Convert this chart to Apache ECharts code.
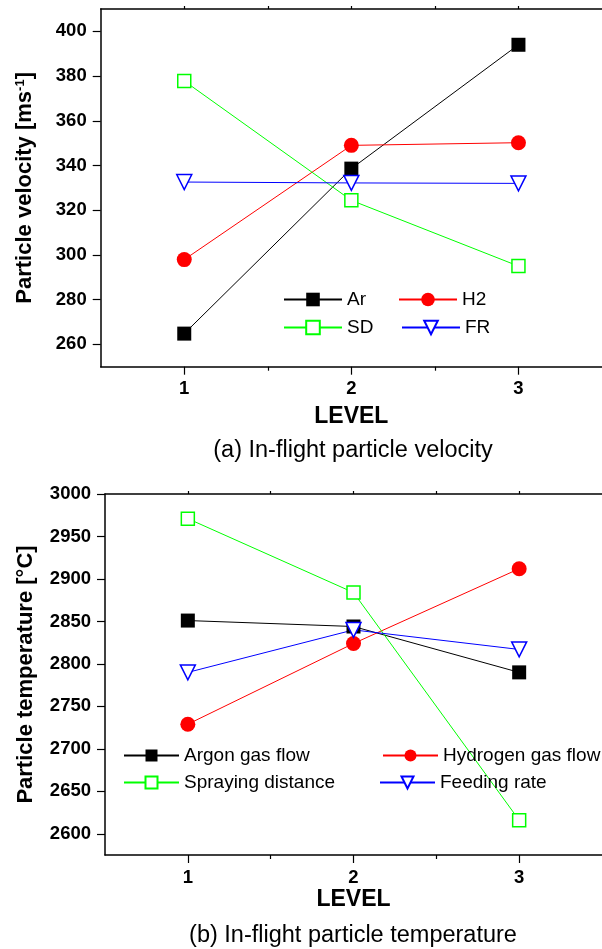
<!DOCTYPE html>
<html>
<head>
<meta charset="utf-8">
<script src="https://cdn.jsdelivr.net/npm/echarts@6/dist/echarts.min.js"></script>
<style>
  html, body { margin: 0; padding: 0; background: #fff; }
  #main { width: 602px; height: 949px; }
</style>
</head>
<body>
<div id="main"></div>
<script>
// levels on the x axis
var levels = [1, 2, 3];
var levelMinor = [1.5, 2.5];
var levelTop = [1, 1.5, 2, 2.5, 3];

// (a) in-flight particle velocity [m/s]
var velAr = [264.8, 338.6, 394.0];
var velH2 = [297.9, 349.0, 350.2];
var velSD = [377.8, 324.4, 295.0];
var velFR = [332.6, 332.2, 332.0];
var velTicks = [260, 280, 300, 320, 340, 360, 380, 400];
var velMinor = [270, 290, 310, 330, 350, 370, 390];

// (b) in-flight particle temperature [°C]
var tempAr = [2851, 2844, 2790];
var tempH2 = [2729, 2824, 2912];
var tempSD = [2971, 2884, 2616];
var tempFR = [2790, 2840, 2817];
var tempTicks = [2600, 2650, 2700, 2750, 2800, 2850, 2900, 2950, 3000];
var tempMinor = [2625, 2675, 2725, 2775, 2825, 2875, 2925, 2975];

var FONT = '"Liberation Sans", Arial, sans-serif';
var downTri = 'path://M0,0 L10,0 L5,9 Z';

function pairs(ys) {
    return levels.map(function (x, i) { return [x, ys[i]]; });
}

// main x axis + minor ticks + top border for one grid
function xAxes(grid) {
    return [
        {
            type: 'value', gridIndex: grid, min: 0.5, max: 3.5, position: 'bottom',
            name: 'LEVEL', nameLocation: 'middle', nameGap: grid === 0 ? 38 : 33,
            nameTextStyle: { fontFamily: FONT, fontSize: 23, fontWeight: 'bold', color: '#000' },
            axisLine: { show: true, lineStyle: { color: '#000', width: 1.5 } },
            axisTick: { show: true, length: 8, customValues: levels, lineStyle: { color: '#000', width: 1.2 } },
            axisLabel: { customValues: levels, margin: 13, fontFamily: FONT, fontSize: 18.5, fontWeight: 'bold', color: '#000' },
            splitLine: { show: false }
        },
        {
            type: 'value', gridIndex: grid, min: 0.5, max: 3.5, position: 'bottom',
            axisLine: { show: false },
            axisTick: { show: true, length: 4, customValues: levelMinor, lineStyle: { color: '#000', width: 1.2 } },
            axisLabel: { show: false },
            splitLine: { show: false }
        },
        {
            type: 'value', gridIndex: grid, min: 0.5, max: 3.5, position: 'top',
            axisLine: { show: true, lineStyle: { color: '#000', width: 1.5 } },
            axisTick: { show: true, length: 3, customValues: levelTop, lineStyle: { color: '#000', width: 1.2 } },
            axisLabel: { show: false },
            splitLine: { show: false }
        }
    ];
}

function yAxes(grid, min, max, ticks, minor, name, gap) {
    return [
        {
            type: 'value', gridIndex: grid, min: min, max: max,
            name: name, nameLocation: 'middle', nameGap: gap,
            nameTextStyle: {
                fontFamily: FONT, fontSize: 22, fontWeight: 'bold', color: '#000',
                rich: { sup: { fontFamily: FONT, fontSize: 13, fontWeight: 'bold', color: '#000', verticalAlign: 'top', padding: [0, 0, 10, 0] } }
            },
            axisLine: { show: true, lineStyle: { color: '#000', width: 1.5 } },
            axisTick: { show: true, length: 8, customValues: ticks, lineStyle: { color: '#000', width: 1.2 } },
            axisLabel: {
                customValues: ticks, margin: 14, fontFamily: FONT, fontSize: 18.5, fontWeight: 'bold', color: '#000',
                formatter: function (v) { return String(v); }
            },
            splitLine: { show: false }
        },
        {
            type: 'value', gridIndex: grid, min: min, max: max,
            axisLine: { show: false },
            axisTick: { show: true, length: 4, customValues: minor, lineStyle: { color: '#000', width: 1.2 } },
            axisLabel: { show: false },
            splitLine: { show: false }
        }
    ];
}

function line(name, xi, yi, ys, color, symbol, size, hollow) {
    return {
        name: name, type: 'line', xAxisIndex: xi, yAxisIndex: yi,
        data: pairs(ys),
        symbol: symbol, symbolSize: size,
        lineStyle: { color: color, width: 1 },
        itemStyle: hollow ? { color: '#fff', borderColor: color, borderWidth: 1.5 } : { color: color },
        emphasis: { disabled: true },
        animation: false
    };
}

function legendItem(name, left, top, w, h) {
    return {
        data: [name], left: left, top: top, padding: 0,
        itemWidth: w, itemHeight: h, selectedMode: false,
        textStyle: { fontFamily: FONT, fontSize: 19, color: '#000' }
    };
}

var myChart = echarts.init(document.getElementById('main'), null, { renderer: 'canvas' });
var option = {
    animation: false,
    grid: [
        { left: 100.7, top: 9, right: -3, height: 357.7 },
        { left: 105, top: 494, right: -3, height: 361 }
    ],
    xAxis: xAxes(0).concat(xAxes(1)),
    yAxis: yAxes(0, 250, 410, velTicks, velMinor, 'Particle velocity [ms{sup|-1}]', 64)
        .concat(yAxes(1, 2575, 3000, tempTicks, tempMinor, 'Particle temperature [°C]', 68)),
    title: [
        { text: '(a) In-flight particle velocity', left: 353, top: 439, textAlign: 'center', padding: 0,
          textStyle: { fontFamily: FONT, fontSize: 23.5, fontWeight: 'normal', color: '#000' } },
        { text: '(b) In-flight particle temperature', left: 353, top: 924, textAlign: 'center', padding: 0,
          textStyle: { fontFamily: FONT, fontSize: 23.5, fontWeight: 'normal', color: '#000' } }
    ],
    legend: [
        legendItem('Ar', 283, 290, 58, 17),
        legendItem('H2', 398, 290, 58, 17),
        legendItem('SD', 283, 318, 58, 17),
        legendItem('FR', 401, 318, 58, 17),
        legendItem('Argon gas flow', 123, 746, 55, 15),
        legendItem('Hydrogen gas flow', 382, 746, 55, 15),
        legendItem('Spraying distance', 123, 773, 55, 15),
        legendItem('Feeding rate', 379, 773, 55, 15)
    ],
    series: [
        line('Ar', 0, 0, velAr, '#000000', 'rect', 14, false),
        line('H2', 0, 0, velH2, '#ff0000', 'circle', 15, false),
        line('SD', 0, 0, velSD, '#00ff00', 'rect', 13, true),
        line('FR', 0, 0, velFR, '#0000ff', downTri, 15, true),
        line('Argon gas flow', 3, 2, tempAr, '#000000', 'rect', 14, false),
        line('Hydrogen gas flow', 3, 2, tempH2, '#ff0000', 'circle', 15, false),
        line('Spraying distance', 3, 2, tempSD, '#00ff00', 'rect', 13, true),
        line('Feeding rate', 3, 2, tempFR, '#0000ff', downTri, 15, true)
    ]
};
myChart.setOption(option);
</script>
</body>
</html>
